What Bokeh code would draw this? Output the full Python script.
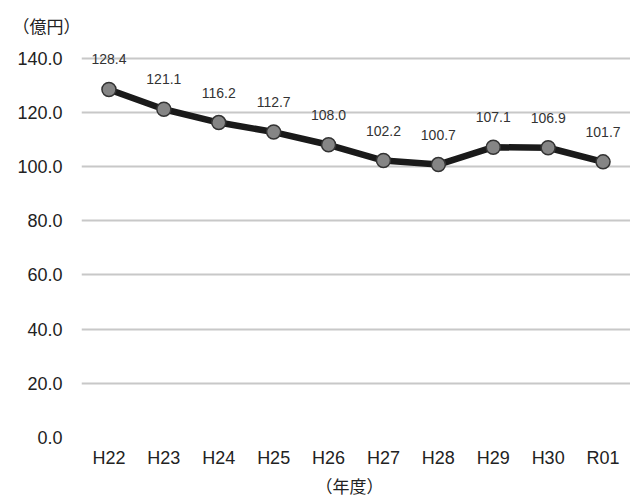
from bokeh.plotting import figure
from bokeh.models import (ColumnDataSource, FactorRange, Range1d, FixedTicker,
                          NumeralTickFormatter, Title)
from bokeh.core.properties import value
from bokeh.embed import file_html
from bokeh.resources import INLINE

years = ["H22", "H23", "H24", "H25", "H26", "H27", "H28", "H29", "H30", "R01"]
amounts = [128.4, 121.1, 116.2, 112.7, 108.0, 102.2, 100.7, 107.1, 106.9, 101.7]
y_ticks = [0, 20, 40, 60, 80, 100, 120, 140]

src = ColumnDataSource(dict(x=years, y=amounts, lbl=[f"{v:.1f}" for v in amounts]))

p = figure(width=630, height=497, output_backend="svg", toolbar_location=None,
           x_range=FactorRange(*years, range_padding=0), y_range=Range1d(0, 145),
           min_border_left=81, min_border_right=0, min_border_top=44, min_border_bottom=59)
p.outline_line_color = None
p.background_fill_color = "white"

p.xgrid.grid_line_color = None
p.ygrid.grid_line_color = "#c8c8c8"
p.ygrid.grid_line_width = 2

p.yaxis.ticker = FixedTicker(ticks=y_ticks)
p.yaxis.formatter = NumeralTickFormatter(format="0.0")
for ax in (p.xaxis[0], p.yaxis[0]):
    ax.axis_line_color = None
    ax.major_tick_line_color = None
    ax.minor_tick_line_color = None
    ax.major_tick_out = 0
    ax.minor_tick_out = 0
    ax.major_label_text_font = "Liberation Sans"
    ax.major_label_text_font_size = "18px"
    ax.major_label_text_color = "#222222"
    ax.major_label_text_line_height = 1.0
p.yaxis.major_label_standoff = 19
p.xaxis.major_label_standoff = 10

p.line("x", "y", source=src, line_color="#1a1a1a", line_width=6.5)
p.scatter("x", "y", source=src, size=14, fill_color="#858585",
          line_color="#333333", line_width=1.5)
p.text("x", "y", text="lbl", source=src, text_align="center", text_baseline="middle",
       y_offset=-30, text_font=value("Liberation Sans"), text_font_size="14px",
       text_color="#333333")

p.add_layout(Title(text="（億円）", align="left", offset=-69, standoff=13,
                   text_font="Noto Sans CJK JP", text_font_size="17px",
                   text_font_style="normal", text_color="#222222"), "above")
p.add_layout(Title(text="（年度）", align="left", offset=234, standoff=0,
                   text_font="Noto Sans CJK JP", text_font_size="17px",
                   text_font_style="normal", text_color="#222222",
                   text_line_height=1.0), "below")

open("out.html", "w").write(file_html(p, INLINE))
